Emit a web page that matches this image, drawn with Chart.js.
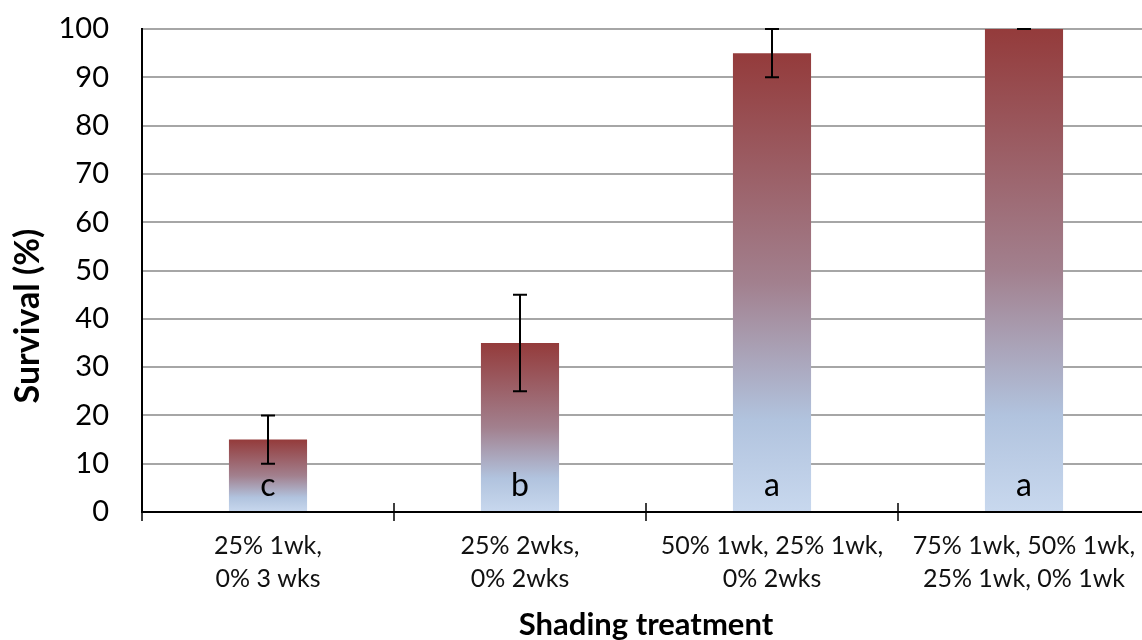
<!DOCTYPE html>
<html>
<head>
<meta charset="utf-8">
<script src="https://cdn.jsdelivr.net/npm/chart.js@4"></script>
<style>
  html, body { margin: 0; padding: 0; background: #fff; overflow: hidden; }
  #wrap { width: 1150px; height: 640px; position: relative; }
</style>
</head>
<body>
<div id="wrap"><canvas id="survival"></canvas></div>
<script>
var treatments = [
  ["25% 1wk,", "0% 3 wks"],
  ["25% 2wks,", "0% 2wks"],
  ["50% 1wk, 25% 1wk,", "0% 2wks"],
  ["75% 1wk, 50% 1wk,", "25% 1wk, 0% 1wk"]
];
var survival = [15, 35, 95, 100];
var errors = [5, 10, 5, 0];
var letters = ["c", "b", "a", "a"];
var yTicks = [0, 10, 20, 30, 40, 50, 60, 70, 80, 90, 100];
var yTitle = "Survival (%)";

var fontFamily = "Lato, 'Open Sans', sans-serif";

function barGradient(context) {
  var chart = context.chart;
  if (!chart.chartArea || context.type !== 'data') return '#a07a85';
  var y = chart.scales.y;
  var top = y.getPixelForValue(context.raw);
  var base = y.getPixelForValue(0);
  var g = chart.ctx.createLinearGradient(0, top, 0, base);
  g.addColorStop(0, '#943b3b');
  g.addColorStop(0.5, '#a2808e');
  g.addColorStop(0.8, '#b1c3de');
  g.addColorStop(1, '#c8d8ee');
  return g;
}

// error bars, significance letters, x-axis tick marks and y title
var extras = {
  id: 'extras',
  afterDatasetsDraw: function (chart) {
    var ctx = chart.ctx;
    var x = chart.scales.x;
    var y = chart.scales.y;
    var meta = chart.getDatasetMeta(0);
    var y0 = y.getPixelForValue(0);
    ctx.save();

    ctx.strokeStyle = '#000';
    ctx.lineWidth = 2;
    meta.data.forEach(function (bar, i) {
      var hi = y.getPixelForValue(survival[i] + errors[i]);
      var lo = y.getPixelForValue(survival[i] - errors[i]);
      ctx.beginPath();
      ctx.moveTo(bar.x, hi); ctx.lineTo(bar.x, lo);
      ctx.moveTo(bar.x - 7, hi); ctx.lineTo(bar.x + 7, hi);
      ctx.moveTo(bar.x - 7, lo); ctx.lineTo(bar.x + 7, lo);
      ctx.stroke();
    });

    ctx.fillStyle = '#000';
    ctx.font = '32px ' + fontFamily;
    ctx.textAlign = 'center';
    ctx.textBaseline = 'alphabetic';
    meta.data.forEach(function (bar, i) {
      ctx.fillText(letters[i], bar.x, y0 - 16);
    });

    ctx.lineWidth = 1.5;
    ctx.beginPath();
    for (var i = 1; i < treatments.length; i++) {
      var bx = (x.getPixelForValue(i - 1) + x.getPixelForValue(i)) / 2;
      ctx.moveTo(bx, y0 - 9); ctx.lineTo(bx, y0 + 9);
    }
    ctx.moveTo(chart.chartArea.left, y0); ctx.lineTo(chart.chartArea.left, y0 + 9);
    ctx.stroke();

    // excel puts the axis title a bit below the plot's middle
    ctx.translate(28, 316);
    ctx.rotate(-Math.PI / 2);
    ctx.font = 'bold 34px ' + fontFamily;
    ctx.textBaseline = 'middle';
    ctx.fillText(yTitle, 0, 0);
    ctx.restore();
  }
};

new Chart(document.getElementById('survival'), {
  type: 'bar',
  data: {
    labels: treatments,
    datasets: [{
      label: 'Survival (%)',
      data: survival,
      backgroundColor: barGradient,
      categoryPercentage: 1,
      barPercentage: 0.31
    }]
  },
  options: {
    responsive: true,
    maintainAspectRatio: false,
    animation: false,
    layout: { padding: { top: 29, right: 0, left: 0, bottom: 0 } },
    plugins: {
      legend: { display: false },
      tooltip: { enabled: false }
    },
    scales: {
      x: {
        grid: { display: false },
        border: { color: '#000', width: 2 },
        ticks: {
          color: '#111',
          padding: 9,
          maxRotation: 0,
          autoSkip: false,
          font: { family: fontFamily, size: 25, lineHeight: 1.32 }
        },
        title: {
          display: true,
          text: 'Shading treatment',
          color: '#000',
          font: { family: fontFamily, size: 31, weight: 'bold' },
          padding: { top: 0, bottom: -4 }
        },
        afterFit: function (scale) { scale.height = 128; }
      },
      y: {
        min: 0,
        max: 100,
        afterBuildTicks: function (scale) {
          scale.ticks = yTicks.map(function (v) { return { value: v }; });
        },
        grid: { color: '#a6a6a6', lineWidth: 2, drawTicks: true, tickLength: 30, tickColor: 'rgba(0,0,0,0)' },
        border: { color: '#000', width: 2 },
        ticks: {
          color: '#000',
          padding: 3,
          font: { family: fontFamily, size: 29 }
        },
        title: { display: false },
        afterFit: function (scale) { scale.width = 142; }
      }
    }
  },
  plugins: [extras]
});
</script>
</body>
</html>
